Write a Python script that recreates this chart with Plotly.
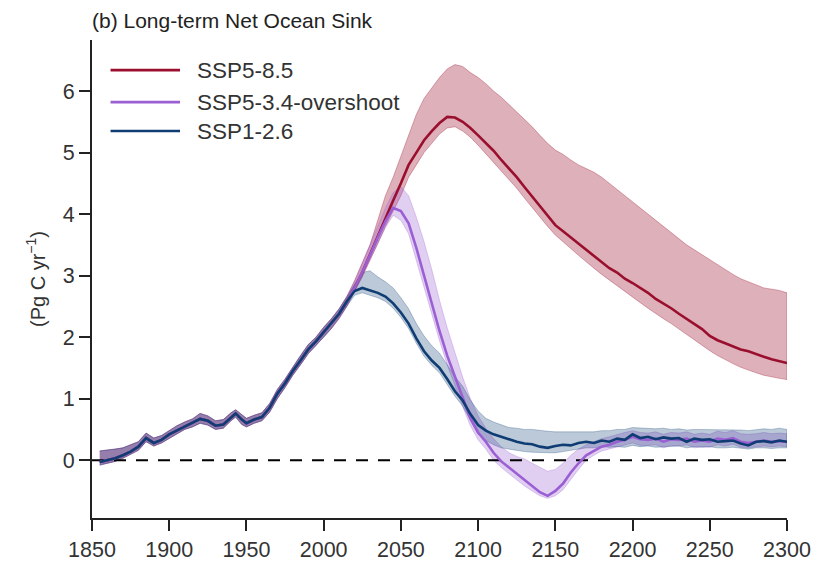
import plotly.graph_objects as go

# historical period (shared by all scenarios)
hist_years = [1855, 1860, 1865, 1870, 1875, 1880, 1885, 1890, 1895, 1900, 1905, 1910, 1915, 1920,
              1925, 1930, 1935, 1940, 1943, 1947, 1950, 1955, 1960, 1965, 1970, 1975, 1980, 1985,
              1990, 1995, 2000, 2005, 2010, 2015]
hist_mean = [-0.03, 0.0, 0.03, 0.08, 0.14, 0.22, 0.36, 0.28, 0.33, 0.42, 0.48, 0.55, 0.6, 0.67,
             0.64, 0.56, 0.58, 0.7, 0.76, 0.66, 0.6, 0.66, 0.7, 0.85, 1.08, 1.25, 1.45, 1.62,
             1.8, 1.93, 2.08, 2.22, 2.38, 2.58]
hist_lo = [-0.08, -0.05, -0.02, 0.03, 0.09, 0.16, 0.3, 0.23, 0.28, 0.36, 0.43, 0.5, 0.54, 0.6,
           0.57, 0.5, 0.52, 0.64, 0.7, 0.58, 0.54, 0.6, 0.64, 0.78, 1.0, 1.18, 1.38, 1.55,
           1.73, 1.86, 2.0, 2.14, 2.3, 2.5]
hist_hi = [0.15, 0.16, 0.18, 0.2, 0.25, 0.3, 0.44, 0.36, 0.4, 0.48, 0.56, 0.62, 0.67, 0.76,
           0.72, 0.64, 0.66, 0.77, 0.82, 0.74, 0.68, 0.73, 0.77, 0.92, 1.15, 1.32, 1.52, 1.7,
           1.88, 2.0, 2.16, 2.3, 2.46, 2.66]

years = list(range(2015, 2301, 5))

# SSP5-8.5
ssp585_mean = [2.58, 2.8, 3.05, 3.35, 3.65, 3.95, 4.22, 4.5, 4.8, 5.0, 5.2, 5.35, 5.48, 5.58,
               5.57, 5.5, 5.4, 5.28, 5.15, 5.03, 4.88, 4.74, 4.6, 4.44, 4.28, 4.12, 3.97, 3.82,
               3.72, 3.62, 3.53, 3.42, 3.33, 3.22, 3.12, 3.05, 2.95, 2.88, 2.8, 2.72, 2.62, 2.55,
               2.47, 2.38, 2.3, 2.22, 2.13, 2.02, 1.95, 1.9, 1.85, 1.8, 1.77, 1.72, 1.68, 1.64,
               1.61, 1.58]
ssp585_lo = [2.52, 2.74, 2.98, 3.25, 3.52, 3.8, 4.05, 4.3, 4.6, 4.8, 5.0, 5.15, 5.3, 5.4,
             5.42, 5.35, 5.25, 5.12, 4.98, 4.85, 4.7, 4.56, 4.42, 4.26, 4.1, 3.95, 3.8, 3.66,
             3.55, 3.44, 3.33, 3.22, 3.12, 3.02, 2.92, 2.83, 2.74, 2.65, 2.56, 2.47, 2.38, 2.3,
             2.22, 2.13, 2.04, 1.96, 1.87, 1.78, 1.7, 1.63, 1.57, 1.51, 1.46, 1.42, 1.38, 1.35,
             1.33, 1.31]
ssp585_hi = [2.68, 2.92, 3.2, 3.5, 3.9, 4.3, 4.6, 4.95, 5.3, 5.62, 5.88, 6.05, 6.22, 6.36,
             6.43, 6.4, 6.3, 6.22, 6.12, 6.0, 5.9, 5.78, 5.66, 5.55, 5.42, 5.28, 5.15, 5.04,
             4.97, 4.88, 4.8, 4.74, 4.68, 4.6, 4.5, 4.4, 4.3, 4.2, 4.1, 4.0, 3.9, 3.8,
             3.7, 3.6, 3.5, 3.42, 3.34, 3.25, 3.17, 3.1, 3.02, 2.95, 2.9, 2.84, 2.8, 2.78,
             2.76, 2.72]

# SSP5-3.4-overshoot
ssp534_mean = [2.58, 2.8, 3.05, 3.35, 3.62, 3.88, 4.1, 4.05, 3.85, 3.45, 3.0, 2.55, 2.1, 1.7,
               1.35, 1.0, 0.68, 0.45, 0.3, 0.12, -0.02, -0.12, -0.22, -0.32, -0.42, -0.52, -0.58, -0.5,
               -0.38, -0.2, -0.05, 0.08, 0.15, 0.22, 0.25, 0.3, 0.33, 0.38, 0.34, 0.33, 0.35, 0.3,
               0.34, 0.33, 0.35, 0.3, 0.32, 0.3, 0.35, 0.33, 0.36, 0.3, 0.28, 0.3, 0.32, 0.3,
               0.31, 0.3]
ssp534_lo = [2.52, 2.74, 2.98, 3.26, 3.52, 3.78, 3.98, 3.9, 3.68, 3.28, 2.82, 2.38, 1.94, 1.55,
             1.2, 0.87, 0.56, 0.33, 0.18, 0.0, -0.12, -0.22, -0.32, -0.42, -0.5, -0.58, -0.62, -0.58,
             -0.48, -0.32, -0.15, 0.0, 0.08, 0.15, 0.18, 0.22, 0.25, 0.28, 0.24, 0.24, 0.25, 0.2,
             0.24, 0.23, 0.25, 0.2, 0.22, 0.21, 0.25, 0.23, 0.26, 0.21, 0.2, 0.22, 0.23, 0.22,
             0.23, 0.22]
ssp534_hi = [2.65, 2.9, 3.2, 3.5, 3.8, 4.1, 4.35, 4.45, 4.3, 3.95, 3.55, 3.1, 2.6, 2.15,
             1.75, 1.35, 1.0, 0.72, 0.52, 0.35, 0.22, 0.12, 0.06, 0.02, -0.05, -0.12, -0.18, -0.15,
             -0.05, 0.08, 0.18, 0.25, 0.3, 0.35, 0.38, 0.42, 0.45, 0.48, 0.45, 0.44, 0.46, 0.42,
             0.45, 0.44, 0.46, 0.42, 0.44, 0.42, 0.47, 0.45, 0.48, 0.43, 0.42, 0.43, 0.45, 0.43,
             0.44, 0.43]

# SSP1-2.6
ssp126_mean = [2.58, 2.75, 2.8, 2.76, 2.72, 2.66, 2.55, 2.4, 2.22, 1.98, 1.77, 1.62, 1.5, 1.32,
               1.12, 0.97, 0.75, 0.57, 0.48, 0.42, 0.38, 0.33, 0.3, 0.27, 0.26, 0.22, 0.2, 0.23,
               0.25, 0.24, 0.28, 0.3, 0.28, 0.32, 0.3, 0.35, 0.33, 0.42, 0.36, 0.38, 0.34, 0.37,
               0.35, 0.36, 0.3, 0.35, 0.33, 0.34, 0.3, 0.31, 0.32, 0.27, 0.24, 0.3, 0.31, 0.29,
               0.32, 0.3]
ssp126_lo = [2.5, 2.68, 2.72, 2.68, 2.64, 2.58, 2.47, 2.32, 2.14, 1.9, 1.69, 1.54, 1.42, 1.24,
             1.04, 0.88, 0.64, 0.42, 0.32, 0.25, 0.2, 0.18, 0.16, 0.14, 0.13, 0.12, 0.12, 0.12,
             0.14, 0.15, 0.18, 0.2, 0.2, 0.22, 0.21, 0.22, 0.21, 0.24, 0.22, 0.23, 0.21, 0.22,
             0.22, 0.23, 0.2, 0.22, 0.21, 0.22, 0.2, 0.2, 0.21, 0.19, 0.18, 0.2, 0.2, 0.19,
             0.2, 0.2]
ssp126_hi = [2.66, 2.85, 3.05, 3.08, 2.98, 2.9, 2.8, 2.64, 2.46, 2.22, 2.02, 1.86, 1.74, 1.55,
             1.36, 1.2, 0.98, 0.8, 0.68, 0.62, 0.57, 0.53, 0.52, 0.5, 0.5, 0.48, 0.47, 0.46,
             0.46, 0.45, 0.45, 0.46, 0.46, 0.48, 0.48, 0.5, 0.5, 0.53, 0.52, 0.52, 0.51, 0.52,
             0.5, 0.51, 0.49, 0.5, 0.5, 0.5, 0.49, 0.5, 0.5, 0.49, 0.48, 0.5, 0.51, 0.5,
             0.52, 0.5]

scenarios = [
    ("SSP5-8.5", ssp585_mean, ssp585_lo, ssp585_hi, "#9a0f2e", "rgba(154,15,46,0.33)"),
    ("SSP5-3.4-overshoot", ssp534_mean, ssp534_lo, ssp534_hi, "#9b5fd4", "rgba(155,95,212,0.3)"),
    ("SSP1-2.6", ssp126_mean, ssp126_lo, ssp126_hi, "#0f3d73", "rgba(15,61,115,0.28)"),
]

all_years = hist_years + years[1:]

fig = go.Figure()

# uncertainty bands
for name, mean, lo, hi, col, fill in scenarios:
    lo_full = hist_lo + lo[1:]
    hi_full = hist_hi + hi[1:]
    fig.add_trace(go.Scatter(x=all_years + all_years[::-1], y=hi_full + lo_full[::-1],
                             fill="toself", fillcolor=fill, mode="lines",
                             line=dict(color=fill, width=1), hoverinfo="skip", showlegend=False))

# zero reference
fig.add_trace(go.Scatter(x=[1850, 2300], y=[0, 0], mode="lines",
                         line=dict(color="black", width=2, dash="12px,10px"), showlegend=False))

# mean lines
for name, mean, lo, hi, col, fill in scenarios:
    fig.add_trace(go.Scatter(x=all_years, y=hist_mean + mean[1:], mode="lines", name=name,
                             line=dict(color=col, width=2.6), showlegend=False))

# legend drawn by hand so the swatches are long like the original
leg_y = [6.34, 5.82, 5.35]
for (name, mean, lo, hi, col, fill), ly in zip(scenarios, leg_y):
    fig.add_shape(type="line", x0=1862, x1=1907, y0=ly, y1=ly, xref="x", yref="y",
                  line=dict(color=col, width=2.6))
    fig.add_annotation(x=1917, y=ly, xref="x", yref="y", text=name, showarrow=False,
                       xanchor="left", yanchor="middle", font=dict(size=22.5, color="#333"))

# page body adds an 8px offset, so margins are shifted to compensate
fig.update_layout(
    width=825, height=568,
    margin=dict(l=84, r=46, t=32, b=58),
    plot_bgcolor="white", paper_bgcolor="white",
    font=dict(family="Liberation Sans, Arial, sans-serif", size=21.5, color="#333"),
    title=dict(text="(b) Long-term Net Ocean Sink", x=84/825, xanchor="left", y=0.977,
               yanchor="middle", font=dict(size=21, color="#222")),
    xaxis=dict(range=[1850, 2300], tickvals=[1850, 1900, 1950, 2000, 2050, 2100, 2150, 2200, 2250, 2300],
               showline=True, linecolor="#222", linewidth=2, ticks="outside", ticklen=11,
               tickwidth=2, tickcolor="#222", showgrid=False, zeroline=False),
    yaxis=dict(range=[-0.94, 6.83], tickvals=[0, 1, 2, 3, 4, 5, 6],
               showline=True, linecolor="#222", linewidth=2, ticks="outside", ticklen=11,
               tickwidth=2, tickcolor="#222", showgrid=False, zeroline=False,
               title=dict(text="(Pg C yr<sup>−1</sup>)", standoff=12, font=dict(size=20))),
)

fig.write_html("out.html")
